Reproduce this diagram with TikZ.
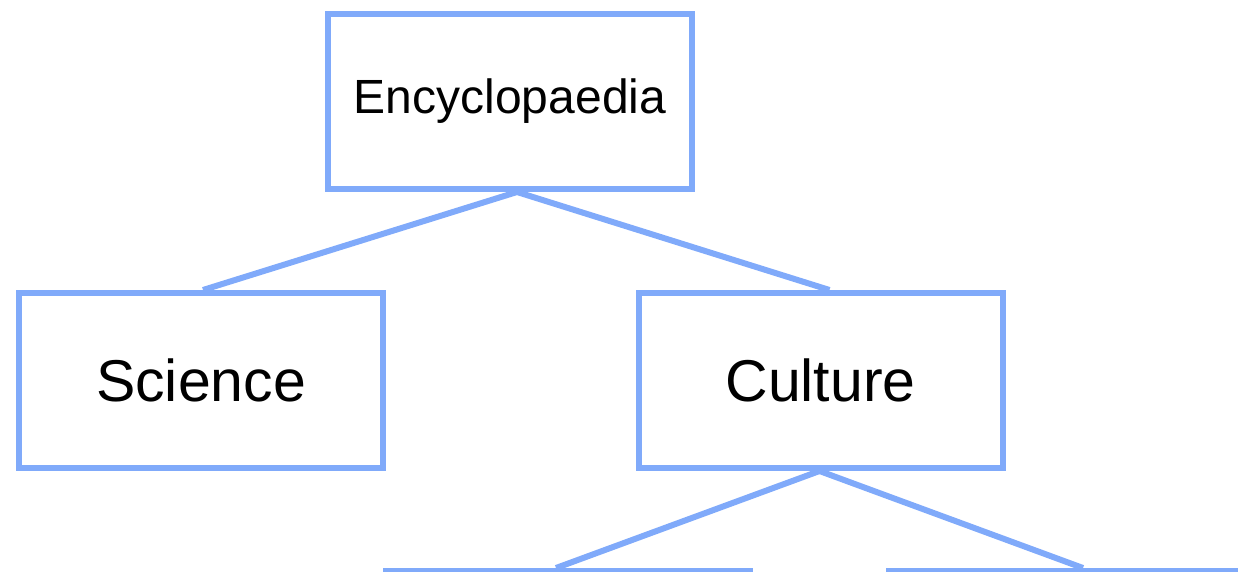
\documentclass[tikz,border=0pt]{standalone}
\usepackage{fontspec}
\setmainfont{Liberation Sans}
\definecolor{boxblue}{RGB}{128,170,250}
\begin{document}
\begin{tikzpicture}[x=1pt,y=-1pt,
  box/.style={draw=boxblue,line width=6pt,minimum width=364pt,minimum height=175pt,inner sep=0pt,anchor=center},
  link/.style={draw=boxblue,line width=6pt}]
\useasboundingbox (0,0) rectangle (1238,572);
\node[box,font=\fontsize{48}{56}\selectfont] (enc) at (510,101.5) {Encyclopaedia};
\node[box,font=\fontsize{59}{68}\selectfont] (sci) at (201,380.5) {Science};
\node[box,font=\fontsize{59}{68}\selectfont] (cul) at (820.5,380.5) {Culture};
\node[box] (bl) at (568,658.5) {};
\node[box] (br) at (1071,658.5) {};
\draw[link] ([xshift=7pt]enc.south) -- ([xshift=2pt]sci.north);
\draw[link] ([xshift=7pt]enc.south) -- ([xshift=9pt]cul.north);
\draw[link] ([xshift=-1pt]cul.south) -- ([xshift=-12pt]bl.north);
\draw[link] ([xshift=-1pt]cul.south) -- ([xshift=12pt]br.north);
\end{tikzpicture}
\end{document}
